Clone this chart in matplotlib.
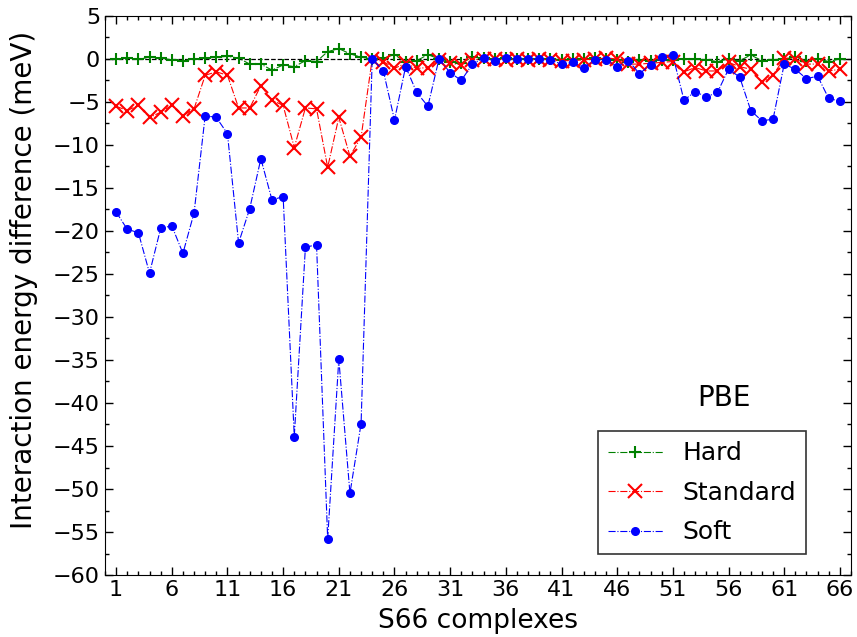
import matplotlib
matplotlib.use("Agg")
import matplotlib.pyplot as plt
from matplotlib.ticker import MultipleLocator, FixedLocator
import numpy as np

complexes = np.arange(1, 67)

hard = [0.0, 0.1, -0.05, 0.2, 0.1, -0.1, -0.2, 0.0, 0.1, 0.2, 0.3, 0.1,
        -0.6, -0.6, -1.3, -0.7, -0.9, -0.2, -0.3, 0.85, 1.2, 0.6, 0.2, 0.0,
        0.1, 0.5, -0.4, -0.2, 0.5, 0.0, -0.3, -0.5, 0.2, 0.1, 0.0, 0.1,
        0.0, 0.0, 0.0, 0.0, -0.1, 0.0, 0.0, 0.1, 0.0, -0.1, -0.3, -0.1,
        -0.2, -0.1, -0.1, 0.0, 0.0, -0.1, -0.3, 0.0, -0.2, 0.45, -0.2, -0.1,
        0.0, 0.2, -0.2, 0.0, -0.3, 0.0]

standard = [-5.5, -6.0, -5.4, -6.8, -6.2, -5.4, -6.6, -5.8, -1.9, -1.5, -1.9, -5.7,
            -5.7, -3.1, -4.8, -5.4, -10.3, -5.7, -5.8, -12.6, -6.8, -11.3, -9.1, 0.0,
            -0.3, -1.1, -0.5, -1.1, -1.0, -0.1, -0.5, -0.7, -0.1, 0.0, 0.0, -0.1,
            0.0, -0.1, 0.0, -0.1, -0.2, -0.2, -0.1, 0.0, 0.1, 0.0, -0.6, -0.6,
            -0.5, -0.4, -0.3, -1.5, -1.0, -1.4, -1.4, -0.4, -0.9, -1.2, -2.7, -1.9,
            0.1, 0.0, -0.6, -0.6, -1.4, -1.2]

soft = [-17.8, -19.8, -20.2, -24.9, -19.7, -19.4, -22.6, -17.9, -6.6, -6.8, -8.7, -21.4,
        -17.4, -11.6, -16.4, -16.0, -43.9, -21.9, -21.6, -55.8, -34.9, -50.5, -42.4, 0.0,
        -1.4, -7.1, -0.9, -3.9, -5.5, 0.0, -1.6, -2.5, -0.6, 0.1, -0.2, 0.1,
        0.0, 0.0, 0.0, -0.1, -0.6, -0.4, -1.0, -0.1, -0.1, -0.9, -0.2, -1.7,
        -0.7, 0.2, 0.4, -4.8, -3.8, -4.4, -3.9, -1.2, -2.1, -6.0, -7.2, -7.0,
        -0.6, -1.2, -2.3, -2.0, -4.6, -4.9]

plt.rcParams['font.family'] = ['DejaVu Sans']

fig = plt.figure(figsize=(8.57, 6.37), dpi=100)
ax = fig.add_axes([0.1225, 0.0973, 0.8705, 0.8777])

ax.axhline(0, color='black', linestyle='--', linewidth=0.9, zorder=1)
ax.plot(complexes, hard, linestyle='-.', color='green', linewidth=0.8,
        marker='+', markersize=9, markeredgewidth=1.5, label='Hard')
ax.plot(complexes, standard, linestyle='-.', color='red', linewidth=0.8,
        marker='x', markersize=10, markeredgewidth=1.5, label='Standard')
ax.plot(complexes, soft, linestyle='-.', color='blue', linewidth=0.8,
        marker='o', markersize=5.5, label='Soft')

ax.set_xlim(0, 67)
ax.set_ylim(-60, 5)
ax.xaxis.set_major_locator(FixedLocator(np.arange(1, 67, 5)))
ax.xaxis.set_minor_locator(MultipleLocator(1))
ax.yaxis.set_major_locator(MultipleLocator(5))
ax.yaxis.set_minor_locator(MultipleLocator(2.5))
ax.tick_params(which='both', direction='in', top=True, right=True, labelsize=16)
ax.tick_params(which='major', length=6, width=1)
ax.tick_params(which='minor', length=3, width=1)

ax.set_xlabel('S66 complexes', fontsize=19, labelpad=6)
ax.set_ylabel('Interaction energy difference (meV)', fontsize=20, labelpad=11,
              y=0.528)

ax.text(0.83, 0.317, 'PBE', transform=ax.transAxes, fontsize=20,
        ha='center', va='center')
leg = ax.legend(loc='lower right', bbox_to_anchor=(0.957, 0.0144), fontsize=18,
                frameon=True, fancybox=False, edgecolor='black', handlelength=2.2,
                labelspacing=0.62)
leg.get_frame().set_linewidth(1.2)

fig.savefig('out.png', dpi=100)
